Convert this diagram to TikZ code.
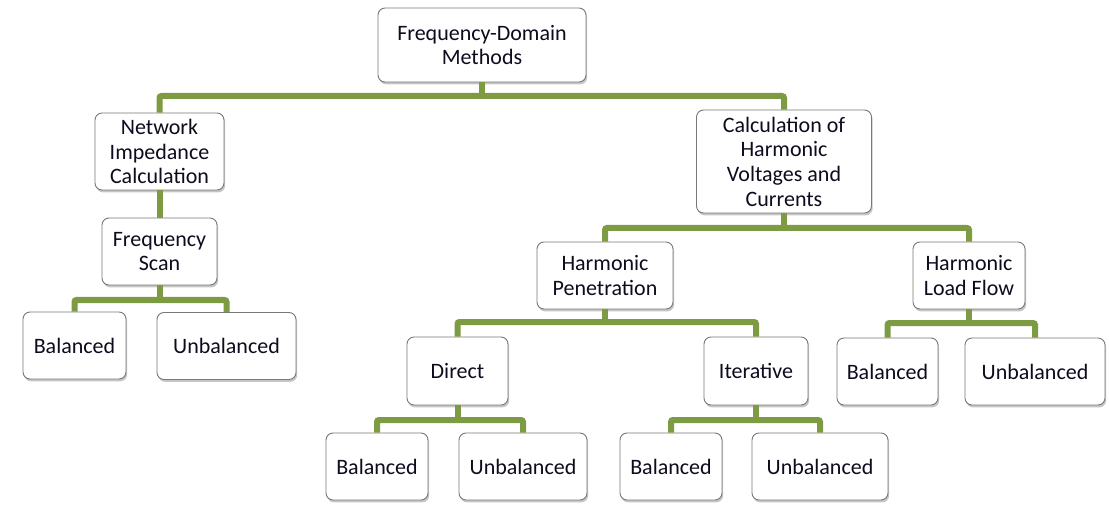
\documentclass[tikz,border=0pt]{standalone}
\usepackage{fontspec}
\setmainfont{Carlito}
\usetikzlibrary{shadows}
\definecolor{conngreen}{RGB}{125,155,66}
\definecolor{boxline}{RGB}{120,120,120}
\definecolor{txt}{RGB}{12,12,30}
\tikzset{
  box/.style={draw=boxline, line width=0.9pt, fill=white, rounded corners=7pt,
    align=center, text=txt, inner sep=2pt,
    font=\fontsize{22}{24.7}\selectfont,
    drop shadow={opacity=0.45, shadow xshift=1.2pt, shadow yshift=-2.4pt}},
  conn/.style={draw=conngreen, line width=6pt, rounded corners=2pt}
}
\begin{document}
\begin{tikzpicture}[x=1pt,y=-1pt]
\useasboundingbox (0,0) rectangle (1109,505);
% connector junctions
\coordinate (j1) at (482,96);
\coordinate (j2) at (159.5,300);
\coordinate (j3) at (784,228);
\coordinate (j4) at (605,322);
\coordinate (j5) at (969,323);
\coordinate (j6) at (457.5,420);
\coordinate (j7) at (756,420);
% boxes
\node[box, minimum width=208pt, minimum height=74pt] (top) at (482,45) {Frequency-Domain\\Methods};
\node[box, minimum width=129pt, minimum height=77pt] (net) at (159.5,151.5) {Network\\Impedance\\Calculation};
\node[box, minimum width=175pt, minimum height=103pt] (calc) at (784,161.5) {Calculation of\\Harmonic\\Voltages and\\Currents};
\node[box, minimum width=115pt, minimum height=67pt] (fscan) at (159.5,251.5) {Frequency\\Scan};
\node[box, minimum width=103pt, minimum height=67pt] (b1) at (74.5,345.5) {Balanced};
\node[box, minimum width=139pt, minimum height=67pt] (u1) at (226.5,346) {Unbalanced};
\node[box, minimum width=136pt, minimum height=67pt] (hp) at (605,275.5) {Harmonic\\Penetration};
\node[box, minimum width=112pt, minimum height=67pt] (hlf) at (969,275.5) {Harmonic\\Load Flow};
\node[box, minimum width=101pt, minimum height=68pt] (dir) at (457.5,371) {Direct};
\node[box, minimum width=104pt, minimum height=68pt] (iter) at (756,371) {Iterative};
\node[box, minimum width=101pt, minimum height=67pt] (b3) at (887.5,371.5) {Balanced};
\node[box, minimum width=140pt, minimum height=67pt] (u3) at (1035,371.5) {Unbalanced};
\node[box, minimum width=102pt, minimum height=67pt] (b2) at (377,466.5) {Balanced};
\node[box, minimum width=128pt, minimum height=67pt] (u2) at (523,466.5) {Unbalanced};
\node[box, minimum width=102pt, minimum height=67pt] (b4) at (671,466.5) {Balanced};
\node[box, minimum width=136pt, minimum height=67pt] (u4) at (820,466.5) {Unbalanced};
% connectors
\draw[conn] (top.south) -- (j1);
\draw[conn] (net.north) |- (j1) -| (calc.north);
\draw[conn] (net.south) -- (fscan.north);
\draw[conn] (fscan.south) -- (j2);
\draw[conn] (b1.north) |- (j2) -| (u1.north);
\draw[conn] (calc.south) -- (j3);
\draw[conn] (hp.north) |- (j3) -| (hlf.north);
\draw[conn] (hp.south) -- (j4);
\draw[conn] (dir.north) |- (j4) -| (iter.north);
\draw[conn] (hlf.south) -- (j5);
\draw[conn] (b3.north) |- (j5) -| (u3.north);
\draw[conn] (dir.south) -- (j6);
\draw[conn] (b2.north) |- (j6) -| (u2.north);
\draw[conn] (iter.south) -- (j7);
\draw[conn] (b4.north) |- (j7) -| (u4.north);
\end{tikzpicture}
\end{document}
